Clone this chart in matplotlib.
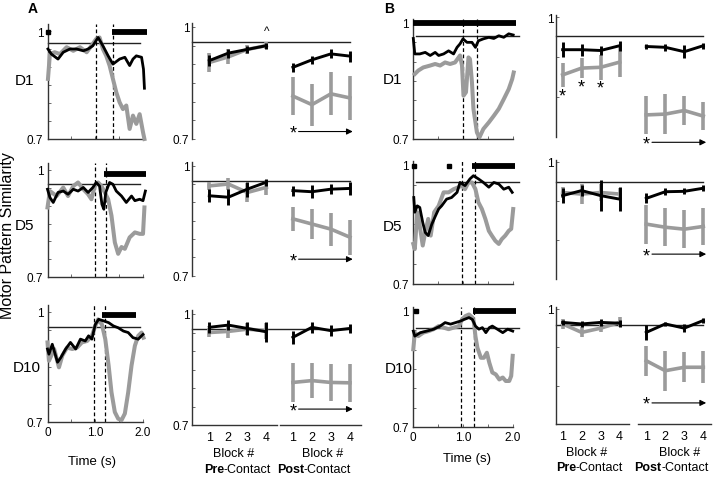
import matplotlib.pyplot as plt

plt.rcParams['font.family'] = ['Liberation Sans', 'DejaVu Sans']

# --- time courses, panel A (t in s, similarity) ---
a_d1_blk_t = [0.01, 0.08, 0.22, 0.33, 0.47, 0.61, 0.75, 0.85, 0.95, 1.06, 1.16, 1.27, 1.37, 1.51, 1.62, 1.72, 1.79, 1.86, 1.97, 2.01, 2.03]
a_d1_blk = [0.950, 0.936, 0.922, 0.941, 0.950, 0.950, 0.945, 0.950, 0.959, 0.982, 0.959, 0.931, 0.908, 0.922, 0.927, 0.904, 0.922, 0.931, 0.927, 0.894, 0.841]
a_d1_gry_t = [0.01, 0.05, 0.15, 0.26, 0.40, 0.54, 0.68, 0.82, 0.92, 1.02, 1.09, 1.16, 1.23, 1.30, 1.37, 1.44, 1.51, 1.58, 1.65, 1.72, 1.79, 1.86, 1.93, 2.00, 2.03]
a_d1_gry = [0.867, 0.936, 0.941, 0.936, 0.955, 0.945, 0.955, 0.941, 0.959, 0.978, 0.982, 0.950, 0.931, 0.904, 0.867, 0.830, 0.802, 0.783, 0.793, 0.728, 0.765, 0.742, 0.769, 0.719, 0.700]

a_d5_blk_t = [0.00, 0.05, 0.12, 0.22, 0.33, 0.43, 0.54, 0.64, 0.75, 0.85, 0.95, 1.02, 1.09, 1.14, 1.18, 1.22, 1.30, 1.37, 1.44, 1.55, 1.65, 1.76, 1.83, 1.93, 2.00, 2.05]
a_d5_blk = [0.946, 0.923, 0.909, 0.937, 0.941, 0.932, 0.946, 0.941, 0.951, 0.937, 0.951, 0.965, 0.955, 0.904, 0.890, 0.937, 0.965, 0.960, 0.941, 0.927, 0.909, 0.927, 0.914, 0.918, 0.914, 0.941]
a_d5_gry_t = [0.00, 0.05, 0.19, 0.33, 0.43, 0.54, 0.64, 0.75, 0.85, 0.92, 0.99, 1.06, 1.13, 1.20, 1.27, 1.34, 1.41, 1.48, 1.55, 1.62, 1.72, 1.83, 1.93, 2.00, 2.03]
a_d5_gry = [0.895, 0.941, 0.927, 0.951, 0.927, 0.955, 0.965, 0.946, 0.932, 0.918, 0.955, 0.965, 0.955, 0.937, 0.918, 0.872, 0.797, 0.765, 0.784, 0.779, 0.811, 0.825, 0.821, 0.821, 0.895]

a_d10_blk_t = [0.00, 0.03, 0.10, 0.21, 0.28, 0.38, 0.48, 0.59, 0.69, 0.79, 0.86, 0.93, 1.00, 1.07, 1.17, 1.28, 1.38, 1.48, 1.59, 1.69, 1.79, 1.90, 2.00]
a_d10_blk = [0.899, 0.885, 0.912, 0.863, 0.876, 0.899, 0.917, 0.899, 0.926, 0.921, 0.935, 0.926, 0.966, 0.980, 0.976, 0.971, 0.962, 0.957, 0.948, 0.944, 0.930, 0.926, 0.939]
a_d10_gry_t = [0.00, 0.03, 0.14, 0.24, 0.31, 0.41, 0.52, 0.62, 0.72, 0.83, 0.93, 1.00, 1.06, 1.14, 1.21, 1.28, 1.34, 1.41, 1.48, 1.55, 1.62, 1.69, 1.76, 1.83, 1.90, 1.97, 2.01]
a_d10_gry = [0.917, 0.867, 0.899, 0.849, 0.881, 0.903, 0.899, 0.903, 0.917, 0.921, 0.935, 0.962, 0.980, 0.966, 0.926, 0.854, 0.781, 0.727, 0.709, 0.705, 0.723, 0.781, 0.854, 0.908, 0.935, 0.944, 0.930]

# --- time courses, panel B ---
b_d1_blk_t = [0.00, 0.03, 0.13, 0.24, 0.34, 0.44, 0.51, 0.61, 0.71, 0.81, 0.88, 0.94, 1.00, 1.08, 1.18, 1.25, 1.31, 1.41, 1.52, 1.62, 1.72, 1.82, 1.92, 2.01]
b_d1_blk = [0.960, 0.920, 0.920, 0.924, 0.916, 0.924, 0.916, 0.920, 0.928, 0.920, 0.937, 0.946, 0.959, 0.950, 0.950, 0.937, 0.954, 0.959, 0.963, 0.960, 0.967, 0.963, 0.972, 0.969]
b_d1_gry_t = [0.03, 0.10, 0.20, 0.34, 0.44, 0.54, 0.64, 0.74, 0.84, 0.94, 0.98, 1.01, 1.06, 1.11, 1.14, 1.18, 1.21, 1.28, 1.33, 1.41, 1.52, 1.62, 1.72, 1.82, 1.92, 1.99, 2.02]
b_d1_gry = [0.868, 0.877, 0.885, 0.890, 0.894, 0.890, 0.898, 0.894, 0.898, 0.916, 0.890, 0.812, 0.821, 0.911, 0.907, 0.847, 0.778, 0.717, 0.704, 0.726, 0.743, 0.760, 0.778, 0.803, 0.829, 0.855, 0.872]

b_d5_blk_t = [0.01, 0.03, 0.08, 0.13, 0.19, 0.24, 0.30, 0.37, 0.44, 0.51, 0.57, 0.67, 0.77, 0.88, 0.94, 1.04, 1.14, 1.21, 1.31, 1.41, 1.52, 1.62, 1.72, 1.82, 1.92, 1.99]
b_d5_blk = [0.918, 0.881, 0.897, 0.893, 0.855, 0.830, 0.822, 0.850, 0.870, 0.889, 0.897, 0.914, 0.918, 0.931, 0.956, 0.948, 0.965, 0.973, 0.965, 0.956, 0.944, 0.956, 0.952, 0.939, 0.944, 0.931]
b_d5_gry_t = [0.00, 0.03, 0.08, 0.13, 0.19, 0.24, 0.30, 0.35, 0.42, 0.51, 0.61, 0.71, 0.81, 0.91, 0.98, 1.04, 1.11, 1.18, 1.25, 1.31, 1.38, 1.45, 1.52, 1.58, 1.65, 1.72, 1.78, 1.85, 1.92, 1.97, 2.01]
b_d5_gry = [0.801, 0.788, 0.881, 0.847, 0.797, 0.830, 0.864, 0.822, 0.881, 0.897, 0.931, 0.931, 0.939, 0.944, 0.948, 0.939, 0.956, 0.956, 0.939, 0.906, 0.889, 0.864, 0.834, 0.822, 0.809, 0.801, 0.813, 0.822, 0.834, 0.839, 0.889]

b_d10_blk_t = [0.00, 0.03, 0.14, 0.27, 0.41, 0.54, 0.64, 0.75, 0.85, 0.95, 1.02, 1.12, 1.19, 1.25, 1.32, 1.39, 1.46, 1.53, 1.59, 1.69, 1.80, 1.90, 2.00]
b_d10_blk = [0.948, 0.935, 0.944, 0.948, 0.953, 0.961, 0.970, 0.966, 0.970, 0.974, 0.978, 0.983, 0.978, 0.961, 0.953, 0.957, 0.944, 0.957, 0.961, 0.953, 0.944, 0.953, 0.948]
b_d10_gry_t = [0.00, 0.03, 0.10, 0.20, 0.31, 0.41, 0.51, 0.61, 0.71, 0.81, 0.92, 0.98, 1.05, 1.12, 1.19, 1.22, 1.25, 1.29, 1.36, 1.42, 1.48, 1.53, 1.59, 1.66, 1.73, 1.80, 1.86, 1.93, 1.97, 2.00]
b_d10_gry = [0.901, 0.944, 0.935, 0.944, 0.948, 0.953, 0.961, 0.957, 0.953, 0.957, 0.961, 0.978, 0.987, 0.991, 0.983, 0.970, 0.935, 0.905, 0.879, 0.879, 0.892, 0.866, 0.841, 0.836, 0.823, 0.828, 0.819, 0.819, 0.832, 0.884]

# reference level, contact events and significance windows per row (D1, D5, D10)
ta_ref = [0.967, 0.960, 0.958]
tb_ref = [0.966, 0.958, 0.957]
ta_events = [(1.01, 1.37), (1.00, 1.23), (0.97, 1.20)]
tb_events = [(0.99, 1.28), (0.98, 1.25), (0.95, 1.23)]
ta_sig = [(1.35, 2.08), (1.19, 2.07), (1.14, 1.86)]
ta_sig_y = [0.996, 0.988, 0.991]
ta_dots = [[0.0], [], []]
tb_sig = [(0.0, 2.06), (1.18, 2.05), (1.20, 2.07)]
tb_sig_y = [1.0, 0.998, 1.0]
tb_dots = [[], [0.01, 0.71], [0.05]]

# --- block means (rows D1, D5, D10) ---
blocks = ['1', '2', '3', '4']
a_pre_blk = [[0.910, 0.930, 0.940, 0.950], [0.918, 0.914, 0.936, 0.955], [0.964, 0.970, 0.961, 0.952]]
a_pre_blk_err = [[0.015, 0.012, 0.010, 0.008], [0.018, 0.022, 0.020, 0.010], [0.014, 0.014, 0.017, 0.027]]
a_pre_gry = [[0.905, 0.920, 0.940, 0.950], [0.945, 0.950, 0.927, 0.941], [0.950, 0.953, 0.959, 0.955]]
a_pre_gry_err = [[0.025, 0.020, 0.013, 0.010], [0.010, 0.016, 0.027, 0.020], [0.011, 0.018, 0.016, 0.022]]
a_post_blk = [[0.892, 0.912, 0.928, 0.922], [0.932, 0.929, 0.936, 0.938], [0.937, 0.964, 0.955, 0.961]]
a_post_blk_err = [[0.012, 0.010, 0.012, 0.015], [0.014, 0.018, 0.014, 0.018], [0.018, 0.014, 0.014, 0.011]]
a_post_gry = [[0.815, 0.792, 0.821, 0.810], [0.855, 0.841, 0.827, 0.805], [0.815, 0.820, 0.815, 0.814]]
a_post_gry_err = [[0.051, 0.056, 0.058, 0.060], [0.032, 0.042, 0.045, 0.048], [0.052, 0.048, 0.050, 0.052]]
a_ref = [0.961, 0.959, 0.959]
a_star = [0.720, 0.745, 0.743]

b_pre_blk = [[0.919, 0.919, 0.917, 0.929], [0.913, 0.926, 0.913, 0.904], [0.965, 0.961, 0.965, 0.963]]
b_pre_blk_err = [[0.019, 0.015, 0.012, 0.012], [0.019, 0.013, 0.040, 0.030], [0.006, 0.009, 0.009, 0.009]]
b_pre_gry = [[0.856, 0.873, 0.875, 0.888], [0.921, 0.917, 0.921, 0.917], [0.961, 0.939, 0.950, 0.965]]
b_pre_gry_err = [[0.031, 0.025, 0.031, 0.037], [0.015, 0.025, 0.023, 0.015], [0.013, 0.013, 0.011, 0.013]]
b_post_blk = [[0.927, 0.925, 0.914, 0.929], [0.906, 0.923, 0.924, 0.932], [0.939, 0.961, 0.950, 0.970]]
b_post_blk_err = [[0.006, 0.008, 0.016, 0.008], [0.013, 0.009, 0.008, 0.008], [0.020, 0.006, 0.011, 0.006]]
b_post_gry = [[0.756, 0.758, 0.767, 0.753], [0.840, 0.832, 0.827, 0.834], [0.865, 0.839, 0.848, 0.848]]
b_post_gry_err = [[0.047, 0.050, 0.036, 0.035], [0.050, 0.049, 0.049, 0.047], [0.039, 0.052, 0.039, 0.042]]
b_ref = [0.954, 0.949, 0.957]
b_star = [0.6875, 0.763, 0.755]
b_pre_star_d1 = [0.804, 0.825, 0.823]

row_names = ['D1', 'D5', 'D10']

# --- layout ---
W, H = 720, 481
GRAY = '#9b9b9b'
SPINE = '#333333'
fig = plt.figure(figsize=(W / 100, H / 100), dpi=100)


def make_axes(x0, x1, y_low, y_one, ymax):
    # y_low / y_one: pixel rows of 0.7 and 1.0
    scale = (y_low - y_one) / 0.3
    top = y_low - (ymax - 0.7) * scale
    ax = fig.add_axes([x0 / W, 1 - y_low / H, (x1 - x0) / W, (y_low - top) / H])
    ax.set_ylim(0.7, ymax)
    ax.set_facecolor('none')
    for s in ['top', 'right']:
        ax.spines[s].set_visible(False)
    for s in ['left', 'bottom']:
        ax.spines[s].set_color(SPINE)
        ax.spines[s].set_linewidth(1.0)
    ax.tick_params(which='both', direction='in', length=2.5, width=0.6,
                   color='#555555', labelsize=8.5, pad=3)
    return ax


def ftext(x, y, s, **kw):
    fig.text(x / W, 1 - y / H, s, **kw)


def time_panel(ax, bt, bv, gt, gv, ref, ev, sig, sig_y, dots, ref_span, last):
    ax.set_xlim(0, 2.0)
    ax.set_yticks([0.7, 1.0])
    ax.set_yticklabels(['0.7', '1'])
    ax.set_yticks([0.75, 0.8, 0.85, 0.9, 0.95], minor=True)
    ax.set_xticks([0, 1, 2])
    ax.set_xticks([0.5, 1.5], minor=True)
    if last:
        ax.set_xticklabels(['0', '1.0', '2.0'])
    else:
        ax.set_xticklabels([])
    ax.plot(ref_span, [ref, ref], color='#222222', lw=1.0, clip_on=False)
    for e in ev:
        ax.axvline(e, color='black', lw=0.9, ls=(0, (3, 2)))
    ax.plot(gt, gv, color=GRAY, lw=2.9, clip_on=False, zorder=3)
    ax.plot(bt, bv, color='black', lw=2.0, clip_on=False, zorder=4)
    ax.plot(sig, [sig_y, sig_y], color='black', lw=4.2, solid_capstyle='butt',
            clip_on=False, zorder=5)
    if dots:
        ax.plot(dots, [sig_y] * len(dots), 's', color='black', ms=3.4,
                clip_on=False, zorder=5)


pre_x = [1, 2, 3, 4]
post_x = [5.4, 6.4, 7.4, 8.4]


def block_panel(ax, i, pb, pbe, pg, pge, qb, qbe, qg, qge, ref, star, xl, last, gaps):
    ax.set_xlim(*xl)
    ax.spines['bottom'].set_visible(False)
    ax.plot([xl[0], 8.4], [ref, ref], color='#222222', lw=1.0, clip_on=False)
    for xs, m, e in [(pre_x, pg, pge), (post_x, qg, qge)]:
        ax.errorbar(xs, m[i], yerr=e[i], color=GRAY, lw=2.6, elinewidth=2.6,
                    capsize=0, clip_on=False, zorder=3)
    for xs, m, e in [(pre_x, pb, pbe), (post_x, qb, qbe)]:
        ax.errorbar(xs, m[i], yerr=e[i], color='black', lw=2.1, elinewidth=2.1,
                    capsize=0, clip_on=False, zorder=4)
    ax.text(post_x[0], star[i] - 0.004, '*', fontsize=13, ha='center',
            va='center', clip_on=False)
    ax.annotate('', xy=(post_x[3] + 0.15, star[i]), xytext=(post_x[0] + 0.3, star[i]),
                arrowprops=dict(arrowstyle='-|>', lw=0.8, color='black',
                                mutation_scale=9, shrinkA=0, shrinkB=0),
                annotation_clip=False)
    if last:
        ax.set_xticks(pre_x + post_x)
        ax.set_xticklabels(blocks * 2, fontsize=9)
        ax.tick_params(axis='x', length=0, pad=4)
        for g in gaps:
            ax.plot(g, [0.7, 0.7], color=SPINE, lw=1.0, clip_on=False)
    else:
        ax.set_xticks([])


ta_rows = [(140, 32), (278, 171), (423, 313)]
tb_rows = [(140, 24), (285, 166), (428, 312)]
ba_rows = [(140, 28), (276.7, 166.7), (426, 315)]
bb_rows = [(138.3, 18.3), (279.7, 162.7), (425, 310)]

a_series = [(a_d1_blk_t, a_d1_blk, a_d1_gry_t, a_d1_gry),
            (a_d5_blk_t, a_d5_blk, a_d5_gry_t, a_d5_gry),
            (a_d10_blk_t, a_d10_blk, a_d10_gry_t, a_d10_gry)]
b_series = [(b_d1_blk_t, b_d1_blk, b_d1_gry_t, b_d1_gry),
            (b_d5_blk_t, b_d5_blk, b_d5_gry_t, b_d5_gry),
            (b_d10_blk_t, b_d10_blk, b_d10_gry_t, b_d10_gry)]

for i in range(3):
    last = i == 2
    # panel A time course
    ax = make_axes(47.5, 143, ta_rows[i][0], ta_rows[i][1], 1.02)
    time_panel(ax, *a_series[i], ta_ref[i], ta_events[i], ta_sig[i], ta_sig_y[i],
               ta_dots[i], [0, 1.93], last)
    # panel B time course
    ax = make_axes(413.3, 512.7, tb_rows[i][0], tb_rows[i][1], 1.01)
    time_panel(ax, *b_series[i], tb_ref[i], tb_events[i], tb_sig[i], tb_sig_y[i],
               tb_dots[i], [0.05, 2.12], last)

    # panel A blocks
    ax = make_axes(192.2, 361.3, ba_rows[i][0], ba_rows[i][1], 1.01)
    ax.set_yticks([0.7, 1.0])
    ax.set_yticklabels(['0.7', '1'])
    ax.set_yticks([0.75, 0.8, 0.85, 0.9, 0.95], minor=True)
    ax.tick_params(axis='y', pad=2)
    block_panel(ax, i, a_pre_blk, a_pre_blk_err, a_pre_gry, a_pre_gry_err,
                a_post_blk, a_post_blk_err, a_post_gry, a_post_gry_err,
                a_ref[i], a_star, (0.1, 9.0), last, [[0.1, 4.55], [4.72, 9.0]])
    if i == 0:
        ax.text(4, 0.99, '^', fontsize=8.5, ha='center', va='center')

    # panel B blocks
    ax = make_axes(556, 714.7, bb_rows[i][0], bb_rows[i][1], 1.005)
    ax.set_yticks([1.0])
    ax.set_yticklabels(['1'])
    ax.set_yticks([0.8, 0.9], minor=True)
    ax.tick_params(axis='y', pad=2)
    block_panel(ax, i, b_pre_blk, b_pre_blk_err, b_pre_gry, b_pre_gry_err,
                b_post_blk, b_post_blk_err, b_post_gry, b_post_gry_err,
                b_ref[i], b_star, (0.65, 9.0), last, [[0.65, 4.5], [4.95, 8.8]])
    if i == 0:
        for x, y in zip(pre_x[:3], b_pre_star_d1):
            ax.text(x, y, '*', fontsize=13, ha='center', va='center')

# --- labels ---
ftext(33, 9, 'A', fontsize=10, fontweight='bold', ha='center', va='center')
ftext(389, 9, 'B', fontsize=10, fontweight='bold', ha='center', va='center')
ftext(8, 236, 'Motor Pattern Similarity', fontsize=11.5, rotation=90,
      ha='center', va='center')
for (x, y, s) in [(24, 81, 'D1'), (25, 226, 'D5'), (27, 368, 'D10'),
                  (393, 80, 'D1'), (393, 227, 'D5'), (399, 369, 'D10')]:
    ftext(x, y, s, fontsize=11, ha='center', va='center')
ftext(92, 462, 'Time (s)', fontsize=9.5, ha='center', va='center')
ftext(467, 459, 'Time (s)', fontsize=9.5, ha='center', va='center')

for xb, xa, yb in [(234, 323, 454), (587, 680, 453)]:
    ftext(xb, yb, 'Block #', fontsize=9, ha='center', va='center')
    ftext(xa, yb, 'Block #', fontsize=9, ha='center', va='center')
for xs, yc, lead in [(224, 470, 'Pre'), (576, 468, 'Pre'),
                     (304, 470, 'Post'), (661, 468, 'Post')]:
    ftext(xs, yc, lead, fontsize=9, fontweight='bold', ha='right', va='center')
    ftext(xs, yc, '-Contact', fontsize=9, ha='left', va='center')

fig.savefig('out.png', dpi=100)
